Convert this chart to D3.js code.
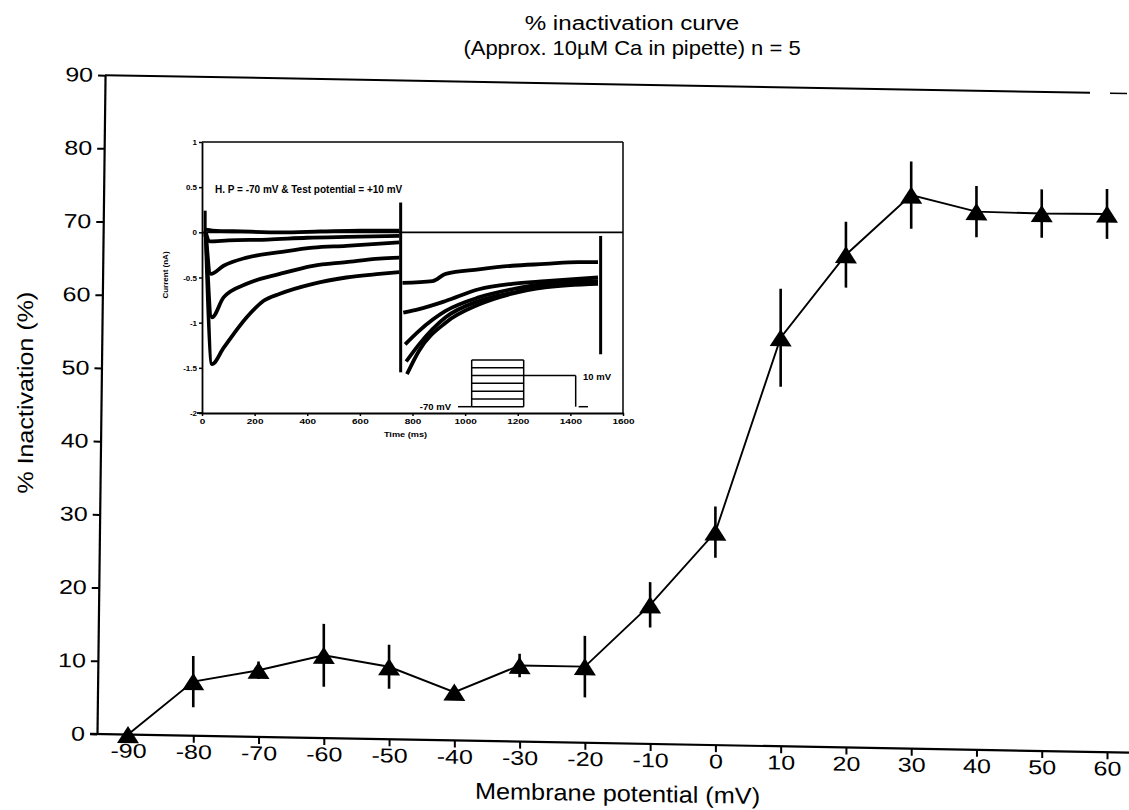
<!DOCTYPE html>
<html>
<head>
<meta charset="utf-8">
<script src="https://cdn.jsdelivr.net/npm/d3@7"></script>
<style>
  body { margin: 0; background: #fff; }
  svg { display: block; }
</style>
</head>
<body>
<svg id="chart" width="1129" height="810"></svg>
<script>
// ---------- % inactivation vs membrane potential ----------
const potentials   = [-90, -80, -70, -60, -50, -40, -30, -20, -10, 0, 10, 20, 30, 40, 50, 60];
const inactivation = [0, 7.4, 9.1, 11.3, 9.9, 6.6, 10.4, 10.4, 19.0, 29.1, 55.8, 67.3, 75.6, 73.5, 73.4, 73.5];
const sem          = [0, 3.5, 1.2, 4.3, 3.0, 0.6, 1.6, 4.2, 3.1, 3.5, 6.7, 4.5, 4.6, 3.5, 3.3, 3.4];
const xTickValues  = [-90, -80, -70, -60, -50, -40, -30, -20, -10, 0, 10, 20, 30, 40, 50, 60];
const yTickValues  = [0, 10, 20, 30, 40, 50, 60, 70, 80, 90];

// ---------- inset: current traces (time in ms, current in nA) ----------
const condTraces = [
  [[14, 0.03], [40, 0.02], [150, 0.01], [300, 0.0], [450, 0.01], [600, 0.02], [750, 0.02]],
  [[14, 0.0], [30, -0.10], [100, -0.09], [250, -0.08], [400, -0.06], [550, -0.05], [750, -0.04]],
  [[14, 0.0], [34, -0.46], [82, -0.37], [170, -0.28], [296, -0.22], [422, -0.17], [548, -0.15], [750, -0.11]],
  [[14, 0.0], [38, -0.94], [82, -0.72], [170, -0.57], [296, -0.46], [422, -0.37], [548, -0.33], [674, -0.29], [750, -0.28]],
  [[14, 0.0], [38, -1.46], [82, -1.28], [170, -0.94], [233, -0.76], [296, -0.68], [422, -0.57], [548, -0.50], [674, -0.46], [750, -0.44]]
];
const testTraces = [
  [[762, -0.56], [876, -0.54], [926, -0.46], [1052, -0.41], [1178, -0.37], [1304, -0.35], [1430, -0.33], [1505, -0.33]],
  [[765, -0.89], [825, -0.85], [926, -0.76], [1052, -0.63], [1178, -0.57], [1304, -0.54], [1505, -0.50]],
  [[772, -1.24], [825, -1.09], [926, -0.87], [1052, -0.72], [1178, -0.63], [1304, -0.57], [1505, -0.54]],
  [[776, -1.43], [825, -1.24], [926, -0.94], [1052, -0.76], [1178, -0.67], [1304, -0.59], [1505, -0.56]],
  [[779, -1.57], [825, -1.31], [926, -1.00], [1052, -0.80], [1178, -0.68], [1304, -0.61], [1505, -0.57]]
];
// capacitive transients: [time, top, bottom]
const transients = [[12, 0.24, -0.05], [755, 0.33, -1.55], [1515, -0.04, -1.35]];
const insetXTicks = [0, 200, 400, 600, 800, 1000, 1200, 1400, 1600];
const insetYTicks = [-2, -1.5, -1, -0.5, 0, 0.5, 1];

// voltage protocol (mV) and its timing (ms)
const condLevels = [-70, -50, -30, -10, 10, 30, 50];
const holdLevel = -70;
const testLevel = 10;
const protoTimes = [-200, 0, 760, 1520, 1700]; // hold, conditioning start, test start, test end, end

const FONT = "'Liberation Sans', Arial, Helvetica, sans-serif";
const svg = d3.select("#chart");

// ---------- title ----------
svg.append("text")
  .attr("transform", "translate(632,30) scale(1.15,1)")
  .attr("text-anchor", "middle")
  .style("font-family", FONT).style("font-size", "21px")
  .text("% inactivation curve");
svg.append("text")
  .attr("transform", "translate(632,55) scale(1.1,1)")
  .attr("text-anchor", "middle")
  .style("font-family", FONT).style("font-size", "20px")
  .text("(Approx. 10\u00B5M Ca in pipette) n = 5");

// ---------- main plot (frame slightly tilted) ----------
const tilt = 0.018, ox = 97;
const g = svg.append("g").attr("transform", `matrix(1,${tilt},0,1,0,${-tilt * ox})`);

const x = d3.scaleLinear().domain([-90, 60]).range([128, 1107]);
const y = d3.scaleLinear().domain([0, 90]).range([734, 75]);

// y axis (slightly leaning line)
const yAxisG = g.append("g")
  .attr("transform", `translate(${ox},${y(0)}) skewX(-0.7) translate(0,${-y(0)})`)
  .call(d3.axisLeft(y).tickValues(yTickValues).tickSize(7).tickSizeOuter(0).tickFormat(d => String(d)));
yAxisG.attr("font-family", null).attr("font-size", null);
yAxisG.select(".domain").attr("stroke-width", 2.2);
yAxisG.selectAll(".tick line").attr("stroke-width", 2);
yAxisG.selectAll(".tick text")
  .attr("x", -9.6)
  .attr("transform", "scale(1.25,1)")
  .style("font-family", FONT).style("font-size", "20px").attr("fill", "#000");

// x axis
const xAxisG = g.append("g")
  .attr("transform", `translate(0,${y(0)})`)
  .call(d3.axisBottom(x).tickValues(xTickValues).tickSize(7).tickPadding(2).tickFormat(d => String(d)));
xAxisG.attr("font-family", null).attr("font-size", null);
xAxisG.select(".domain").remove();
xAxisG.selectAll(".tick line").attr("stroke-width", 2);
xAxisG.selectAll(".tick text")
  .attr("transform", "scale(1.25,1)")
  .style("font-family", FONT).style("font-size", "20px").attr("fill", "#000");
g.append("line")
  .attr("x1", ox - 7).attr("x2", 1129)
  .attr("y1", y(0)).attr("y2", y(0))
  .attr("stroke", "#000").attr("stroke-width", 2.2);

// top frame line
const topX = ox + 8;
g.append("line")
  .attr("x1", topX).attr("x2", 1090).attr("y1", y(90)).attr("y2", y(90))
  .attr("stroke", "#000").attr("stroke-width", 2);
g.append("line")
  .attr("x1", 1110).attr("x2", 1127).attr("y1", y(90)).attr("y2", y(90))
  .attr("stroke", "#000").attr("stroke-width", 1.5);

// axis titles
g.append("text")
  .attr("transform", `translate(${(x(-90) + x(60)) / 2},792) scale(1.1,1)`)
  .attr("text-anchor", "middle")
  .style("font-family", FONT).style("font-size", "23px")
  .text("Membrane potential (mV)");
g.append("text")
  .attr("transform", "translate(33,394) rotate(-90) scale(1.14,1)")
  .attr("text-anchor", "middle")
  .style("font-family", FONT).style("font-size", "22px")
  .text("% Inactivation (%)");

// data
const pts = potentials.map((p, i) => ({ mV: p, v: inactivation[i], e: sem[i] }));

g.append("path")
  .datum(pts)
  .attr("fill", "none").attr("stroke", "#000").attr("stroke-width", 1.9)
  .attr("d", d3.line().x(d => x(d.mV)).y(d => y(d.v)));

g.selectAll("line.err")
  .data(pts.filter(d => d.e > 0))
  .join("line").attr("class", "err")
  .attr("x1", d => x(d.mV)).attr("x2", d => x(d.mV))
  .attr("y1", d => y(d.v - d.e)).attr("y2", d => y(d.v + d.e))
  .attr("stroke", "#000").attr("stroke-width", 2.6);

// wide filled triangle, centred on its bounding box
const wideTriangle = {
  draw(ctx, size) {
    const w = Math.sqrt(size) / 2, h = w * 0.78;
    ctx.moveTo(0, -h);
    ctx.lineTo(w, h);
    ctx.lineTo(-w, h);
    ctx.closePath();
  }
};
g.selectAll("path.tri")
  .data(pts)
  .join("path").attr("class", "tri")
  .attr("transform", d => `translate(${x(d.mV)},${y(d.v)})`)
  .attr("d", d3.symbol().type(wideTriangle).size(22 * 22))
  .attr("fill", "#000");

// ---------- inset ----------
const ix = d3.scaleLinear().domain([0, 1600]).range([202, 623]);
const iy = d3.scaleLinear().domain([-2, 1]).range([413, 142]);
const inset = svg.append("g");

// frame
inset.append("line").attr("x1", ix(0)).attr("x2", ix(1600)).attr("y1", iy(1)).attr("y2", iy(1))
  .attr("stroke", "#000").attr("stroke-width", 1.5);
inset.append("line").attr("x1", ix(1600)).attr("x2", ix(1600)).attr("y1", iy(1)).attr("y2", iy(-2))
  .attr("stroke", "#000").attr("stroke-width", 1.5);

const iyAxis = inset.append("g").attr("transform", `translate(${ix(0)},0)`)
  .call(d3.axisLeft(iy).tickValues(insetYTicks).tickSize(3).tickPadding(2).tickSizeOuter(0).tickFormat(d => String(d)));
iyAxis.attr("font-family", null).attr("font-size", null);
iyAxis.select(".domain").attr("stroke-width", 1.8);
iyAxis.selectAll(".tick line").attr("stroke-width", 1.5);
iyAxis.selectAll(".tick text").style("font-family", FONT).style("font-size", "8px").style("font-weight", "bold").attr("fill", "#000");

const ixAxis = inset.append("g").attr("transform", `translate(0,${iy(-2)})`)
  .call(d3.axisBottom(ix).tickValues(insetXTicks).tickSize(3).tickPadding(2).tickSizeOuter(0).tickFormat(d => String(d)));
ixAxis.attr("font-family", null).attr("font-size", null);
ixAxis.select(".domain").attr("stroke-width", 1.8);
ixAxis.selectAll(".tick line").attr("stroke-width", 1.5);
ixAxis.selectAll(".tick text").attr("transform", "scale(1.25,1)")
  .style("font-family", FONT).style("font-size", "8px").style("font-weight", "bold").attr("fill", "#000");
inset.append("line").attr("x1", ix(0) - 5).attr("x2", ix(0)).attr("y1", iy(-2)).attr("y2", iy(-2))
  .attr("stroke", "#000").attr("stroke-width", 1.8);

inset.append("text")
  .attr("transform", `translate(${(ix(0) + ix(1600)) / 2 - 7},437) scale(1.15,1)`)
  .attr("text-anchor", "middle")
  .style("font-family", FONT).style("font-size", "8px").style("font-weight", "bold")
  .text("Time (ms)");
inset.append("text")
  .attr("transform", "translate(168,275) rotate(-90)")
  .attr("text-anchor", "middle")
  .style("font-family", FONT).style("font-size", "8px").style("font-weight", "bold")
  .text("Current (nA)");
inset.append("text")
  .attr("x", 215).attr("y", 193)
  .style("font-family", FONT).style("font-size", "10px").style("font-weight", "bold")
  .text("H. P = -70 mV & Test potential = +10 mV");

// zero-current reference line
inset.append("line").attr("x1", ix(0)).attr("x2", ix(1600)).attr("y1", iy(0)).attr("y2", iy(0))
  .attr("stroke", "#000").attr("stroke-width", 1.6);

// traces
const traceLine = d3.line().x(d => ix(d[0])).y(d => iy(d[1])).curve(d3.curveMonotoneX);
inset.selectAll("path.trace")
  .data(condTraces.concat(testTraces))
  .join("path").attr("class", "trace")
  .attr("d", traceLine)
  .attr("fill", "none").attr("stroke", "#000").attr("stroke-width", 3.8)
  .attr("stroke-linejoin", "round");
inset.selectAll("line.transient")
  .data(transients)
  .join("line").attr("class", "transient")
  .attr("x1", d => ix(d[0])).attr("x2", d => ix(d[0]))
  .attr("y1", d => iy(d[1])).attr("y2", d => iy(d[2]))
  .attr("stroke", "#000").attr("stroke-width", 3);

// voltage protocol schematic
const px = d3.scaleLinear().domain([protoTimes[0], protoTimes[4]]).range([458, 588]);
const pv = d3.scaleLinear().domain([-70, 50]).range([406.7, 360]);
const proto = inset.append("g").attr("stroke", "#000").attr("stroke-width", 1.5);
const minC = d3.min(condLevels), maxC = d3.max(condLevels);
proto.append("line").attr("x1", px(protoTimes[0])).attr("x2", px(protoTimes[1]))
  .attr("y1", pv(holdLevel)).attr("y2", pv(holdLevel));
proto.selectAll("line.cond").data(condLevels).join("line").attr("class", "cond")
  .attr("x1", px(protoTimes[1])).attr("x2", px(protoTimes[2]))
  .attr("y1", d => pv(d)).attr("y2", d => pv(d));
[protoTimes[1], protoTimes[2]].forEach(t => {
  proto.append("line").attr("x1", px(t)).attr("x2", px(t)).attr("y1", pv(minC)).attr("y2", pv(maxC));
});
proto.append("line").attr("x1", px(protoTimes[2])).attr("x2", px(protoTimes[3]))
  .attr("y1", pv(testLevel)).attr("y2", pv(testLevel));
proto.append("line").attr("x1", px(protoTimes[3])).attr("x2", px(protoTimes[3]))
  .attr("y1", pv(testLevel)).attr("y2", pv(holdLevel));
proto.append("line").attr("x1", px(protoTimes[3]) + 3).attr("x2", px(protoTimes[4]))
  .attr("y1", pv(holdLevel)).attr("y2", pv(holdLevel));

inset.append("text")
  .attr("x", 583).attr("y", pv(testLevel) + 4)
  .style("font-family", FONT).style("font-size", "9.5px").style("font-weight", "bold")
  .text("10 mV");
inset.append("text")
  .attr("x", 451).attr("y", pv(holdLevel) + 3).attr("text-anchor", "end")
  .style("font-family", FONT).style("font-size", "9.5px").style("font-weight", "bold")
  .text("-70 mV");
</script>
</body>
</html>
